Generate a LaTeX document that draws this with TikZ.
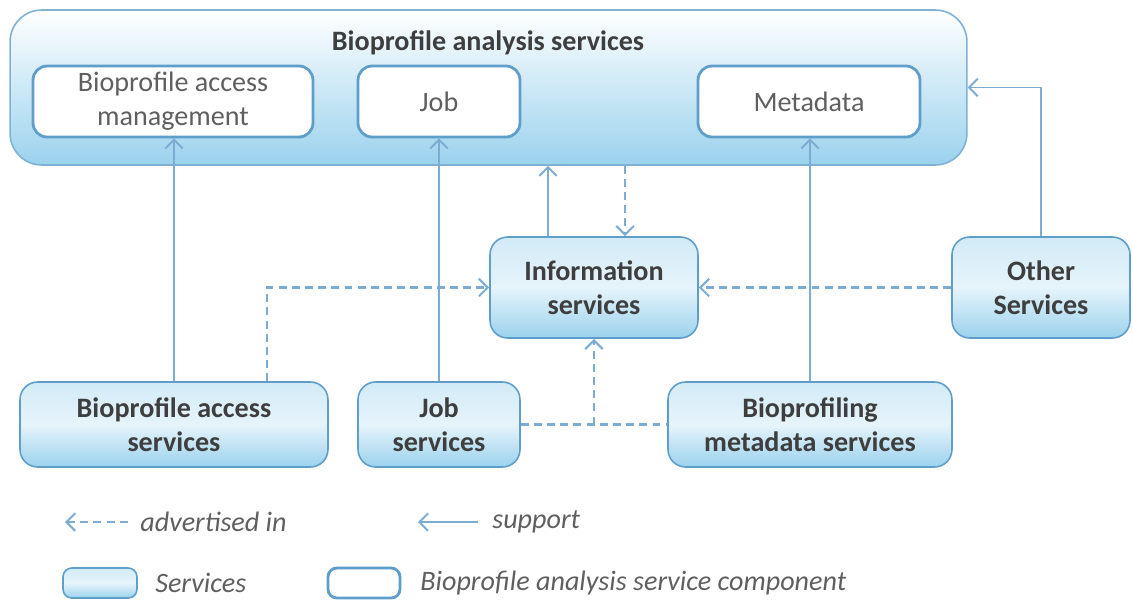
\documentclass[tikz,border=0pt]{standalone}
\usepackage{fontspec}
\setmainfont{Carlito}
\usetikzlibrary{arrows.meta,calc}

\definecolor{linecol}{RGB}{125,172,210}
\definecolor{boxcol}{RGB}{95,158,202}
\definecolor{fillcol}{RGB}{155,210,237}
\definecolor{txtcol}{RGB}{62,62,62}
\definecolor{compcol}{RGB}{95,95,95}

\tikzset{
	service/.style={draw=boxcol,line width=0.9pt,rounded corners=10pt,top color=fillcol!45,bottom color=fillcol,middle color=fillcol!25,
		align=center,text=txtcol,font=\fontsize{16}{19.5}\selectfont\bfseries,inner sep=0pt},
	outerbox/.style={draw=boxcol!80,line width=0.9pt,rounded corners=18pt,top color=white,bottom color=fillcol,inner sep=0pt},
	component/.style={draw=boxcol,line width=1.6pt,rounded corners=8pt,fill=white,
		align=center,text=compcol,font=\fontsize{16}{19.5}\selectfont,inner sep=0pt},
	support/.style={draw=linecol,line width=1.1pt,-{Straight Barb[length=5pt,width=10pt]}},
	advert/.style={draw=linecol,line width=1.2pt,dash pattern=on 4.5pt off 3pt,-{Straight Barb[length=5pt,width=10pt]}},
	advline/.style={draw=linecol,line width=1.2pt,dash pattern=on 4.5pt off 3pt},
	legtext/.style={text=compcol,font=\fontsize{16}{19.5}\selectfont\itshape,anchor=west,inner sep=0pt}
}

\begin{document}
\begin{tikzpicture}[x=0.02cm,y=-0.02cm]
	\useasboundingbox (0,0) rectangle (1133,600);
	% draw analysis services
	\node[outerbox,minimum width=19.14cm,minimum height=3.1cm] (bas) at (488.5,87.5) {};
	\node[text=txtcol,font=\fontsize{16}{19.5}\selectfont\bfseries] (bastitle) at (488,43) {Bioprofile analysis services};
	\node[component,minimum width=5.6cm,minimum height=1.42cm] (accmgmt) at (173,101.5) {Bioprofile access\\management};
	\node[component,minimum width=3.24cm,minimum height=1.42cm] (job) at (439,101.5) {Job};
	\node[component,minimum width=4.44cm,minimum height=1.42cm] (meta) at (809,101.5) {Metadata};
	% draw services
	\node[service,minimum width=4.16cm,minimum height=2.02cm] (info) at (594,287.5) {Information\\services};
	\node[service,minimum width=3.56cm,minimum height=2.02cm] (other) at (1041,287.5) {Other\\Services};
	\node[service,minimum width=6.16cm,minimum height=1.7cm] (accsrv) at (174,424.5) {Bioprofile access\\services};
	\node[service,minimum width=3.24cm,minimum height=1.7cm] (jobsrv) at (439,424.5) {Job\\services};
	\node[service,minimum width=5.68cm,minimum height=1.7cm] (metasrv) at (810,424.5) {Bioprofiling\\metadata services};
	% draw support
	\draw[support] (accsrv.north) -- (accsrv.north |- accmgmt.south);
	\draw[support] (jobsrv) -- (job);
	\draw[support] (metasrv.north) -- (metasrv.north |- meta.south);
	\draw[support] ($(info.north)+(-46,0)$) -- ($(info.north |- bas.south)+(-46,0)$);
	\draw[support] (other.north) |- (bas.east);
	% draw advertised in
	\draw[advert] ($(info.north |- bas.south)+(31,0)$) -- ($(info.north)+(31,0)$);
	\draw[advert] ($(accsrv.north)+(93,0)$) |- (info.west);
	\draw[advert] (other.west) -- (info.east);
	\draw[advline] (jobsrv.east) -- (metasrv.west);
	\draw[advert] (info.south |- jobsrv.east) -- (info.south);
	% draw legend
	\node[legtext] (advtext) at (140,522) {advertised in};
	\coordinate (advtip) at (65,522);
	\draw[advert] ([xshift=-7pt]advtext.west) -- (advtip);
	\node[legtext] (suptext) at (492,522) {support};
	\coordinate (suptip) at (418,522);
	\draw[support] ([xshift=-8pt]suptext.west) -- (suptip);
	\node[service,minimum width=1.48cm,minimum height=0.6cm,rounded corners=5pt] (srvkey) at (100,583) {};
	\node[legtext] (srvtext) at (155,583) {Services};
	\node[component,minimum width=1.44cm,minimum height=0.6cm,rounded corners=5pt] (compkey) at (364,583) {};
	\node[legtext] (comptext) at (420,583) {Bioprofile analysis service component};
\end{tikzpicture}
\end{document}
